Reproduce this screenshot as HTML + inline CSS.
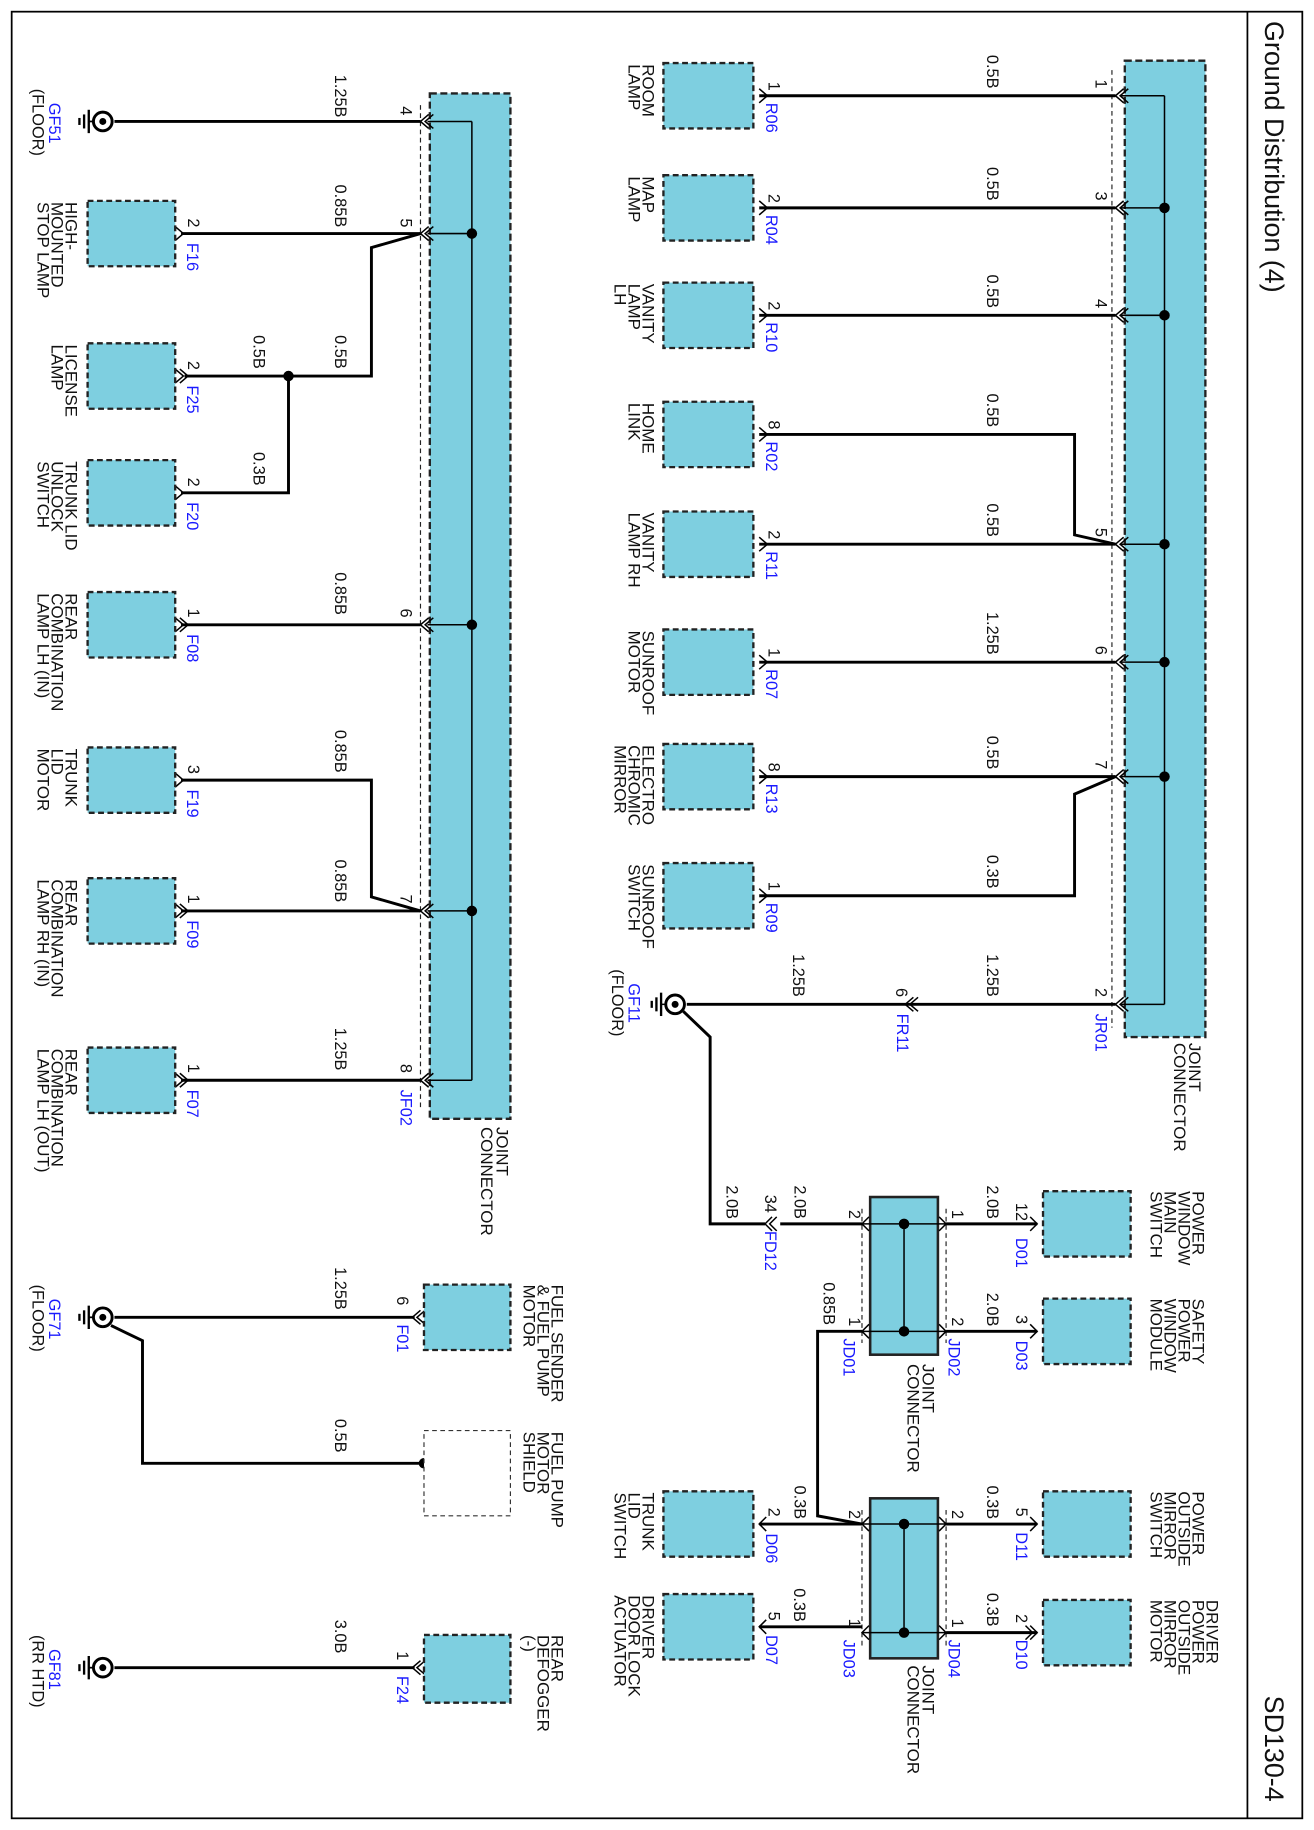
<!DOCTYPE html>
<html><head><meta charset="utf-8"><style>
html,body{margin:0;padding:0;background:#fff}
svg{display:block}
text{font-family:"Liberation Sans",Arial,sans-serif;font-size:14px;fill:#111}
.lb{font-size:14.5px}
.b{fill:#1a1aff}
.w{stroke:#000;stroke-width:2.5;fill:none}
.t{stroke:#000;stroke-width:1.3;fill:none}
.bx{fill:#7ecfe0;stroke:#222;stroke-width:2;stroke-dasharray:5 3}
.jc{fill:#7ecfe0;stroke:#222;stroke-width:2;stroke-dasharray:6 3}
.sj{fill:#7ecfe0;stroke:#222;stroke-width:2.2}
.d{stroke:#222;stroke-width:1;stroke-dasharray:4 3;fill:none}
</style></head><body>
<svg width="1314" height="1830" viewBox="0 0 1125 1567" preserveAspectRatio="none" xmlns="http://www.w3.org/2000/svg">
<rect x="10" y="10" width="1105" height="1547" fill="none" stroke="#000" stroke-width="1.5"/>
<line x1="1068" y1="10" x2="1068" y2="1557" stroke="#000" stroke-width="1.5"/>
<text transform="rotate(90 1083 18)" x="1083" y="18" style="font-size:23px">Ground Distribution (4)</text>
<text transform="rotate(90 1083 1452)" x="1083" y="1452" style="font-size:23px">SD130-4</text>

<rect class="jc" x="963" y="52" width="69" height="836"/>
<line class="d" x1="952" y1="60" x2="952" y2="880"/>
<line class="t" x1="997" y1="82" x2="997" y2="860"/>
<g class="t">
<line x1="960" y1="82" x2="997" y2="82"/><line x1="960" y1="178" x2="997" y2="178"/><line x1="960" y1="270" x2="997" y2="270"/><line x1="960" y1="466" x2="997" y2="466"/><line x1="960" y1="567" x2="997" y2="567"/><line x1="960" y1="665" x2="997" y2="665"/><line x1="960" y1="860" x2="997" y2="860"/>
</g>
<g fill="#000"><circle cx="997" cy="178" r="4.5"/><circle cx="997" cy="270" r="4.5"/><circle cx="997" cy="466" r="4.5"/><circle cx="997" cy="567" r="4.5"/><circle cx="997" cy="665" r="4.5"/></g>
<text class="lb" transform="rotate(90 1018 893)" x="1018" y="893">JOINT</text>
<text class="lb" transform="rotate(90 1005 893)" x="1005" y="893">CONNECTOR</text>

<g class="w">
<line x1="650" y1="82" x2="955" y2="82"/>
<line x1="650" y1="178" x2="955" y2="178"/>
<line x1="650" y1="270" x2="955" y2="270"/>
<polyline points="650,372 920,372 920,458 955,466"/>
<line x1="650" y1="466" x2="955" y2="466"/>
<line x1="650" y1="567" x2="955" y2="567"/>
<line x1="650" y1="665" x2="955" y2="665"/>
<polyline points="650,767 920,767 920,680 955,665"/>
<line x1="588" y1="860" x2="955" y2="860"/>
</g>
<g class="t">
<polyline points="962,76 955,82 962,88"/><polyline points="966,76 959,82 966,88"/>
<polyline points="962,172 955,178 962,184"/><polyline points="966,172 959,178 966,184"/>
<polyline points="962,264 955,270 962,276"/><polyline points="966,264 959,270 966,276"/>
<polyline points="962,460 955,466 962,472"/><polyline points="966,460 959,466 966,472"/>
<polyline points="962,561 955,567 962,573"/><polyline points="966,561 959,567 966,573"/>
<polyline points="962,659 955,665 962,671"/><polyline points="966,659 959,665 966,671"/>
<polyline points="962,854 955,860 962,866"/><polyline points="966,854 959,860 966,866"/>
<polyline points="650,76 657,82 650,88"/><polyline points="650,172 657,178 650,184"/><polyline points="650,264 657,270 650,276"/><polyline points="650,366 657,372 650,378"/><polyline points="650,460 657,466 650,472"/><polyline points="650,561 657,567 650,573"/><polyline points="650,659 657,665 650,671"/><polyline points="650,761 657,767 650,773"/>
<polyline points="782,854 775,860 782,866"/><polyline points="786,854 779,860 786,866"/>
</g>
<g class="bx">
<rect x="568" y="54" width="77" height="56"/><rect x="568" y="150" width="77" height="56"/><rect x="568" y="242" width="77" height="56"/><rect x="568" y="344" width="77" height="56"/><rect x="568" y="438" width="77" height="56"/><rect x="568" y="539" width="77" height="56"/><rect x="568" y="637" width="77" height="56"/><rect x="568" y="739" width="77" height="56"/>
</g>
<g class="lb">
<text class="lb" transform="rotate(90 550 55)" x="550" y="55">ROOM</text><text class="lb" transform="rotate(90 538 55)" x="538" y="55">LAMP</text>
<text class="lb" transform="rotate(90 550 151)" x="550" y="151">MAP</text><text class="lb" transform="rotate(90 538 151)" x="538" y="151">LAMP</text>
<text class="lb" transform="rotate(90 550 243)" x="550" y="243">VANITY</text><text class="lb" transform="rotate(90 538 243)" x="538" y="243">LAMP</text><text class="lb" transform="rotate(90 526 243)" x="526" y="243">LH</text>
<text class="lb" transform="rotate(90 550 345)" x="550" y="345">HOME</text><text class="lb" transform="rotate(90 538 345)" x="538" y="345">LINK</text>
<text class="lb" transform="rotate(90 550 439)" x="550" y="439">VANITY</text><text class="lb" transform="rotate(90 538 439)" x="538" y="439">LAMP RH</text>
<text class="lb" transform="rotate(90 550 540)" x="550" y="540">SUNROOF</text><text class="lb" transform="rotate(90 538 540)" x="538" y="540">MOTOR</text>
<text class="lb" transform="rotate(90 550 638)" x="550" y="638">ELECTRO</text><text class="lb" transform="rotate(90 538 638)" x="538" y="638">CHROMIC</text><text class="lb" transform="rotate(90 526 638)" x="526" y="638">MIRROR</text>
<text class="lb" transform="rotate(90 550 740)" x="550" y="740">SUNROOF</text><text class="lb" transform="rotate(90 538 740)" x="538" y="740">SWITCH</text>
</g>
<text transform="rotate(90 845 47)" x="845" y="47">0.5B</text>
<text transform="rotate(90 845 143)" x="845" y="143">0.5B</text>
<text transform="rotate(90 845 235)" x="845" y="235">0.5B</text>
<text transform="rotate(90 845 337)" x="845" y="337">0.5B</text>
<text transform="rotate(90 845 431)" x="845" y="431">0.5B</text>
<text transform="rotate(90 845 524)" x="845" y="524">1.25B</text>
<text transform="rotate(90 845 630)" x="845" y="630">0.5B</text>
<text transform="rotate(90 845 732)" x="845" y="732">0.3B</text>
<text transform="rotate(90 845 817)" x="845" y="817">1.25B</text>
<text transform="rotate(90 679 817)" x="679" y="817">1.25B</text>
<text transform="rotate(90 938 68)" x="938" y="68">1</text><text transform="rotate(90 938 164)" x="938" y="164">3</text><text transform="rotate(90 938 256)" x="938" y="256">4</text><text transform="rotate(90 938 452)" x="938" y="452">5</text><text transform="rotate(90 938 553)" x="938" y="553">6</text><text transform="rotate(90 938 651)" x="938" y="651">7</text><text transform="rotate(90 938 846)" x="938" y="846">2</text>
<text transform="rotate(90 658 70)" x="658" y="70">1</text><text transform="rotate(90 658 166)" x="658" y="166">2</text><text transform="rotate(90 658 258)" x="658" y="258">2</text><text transform="rotate(90 658 360)" x="658" y="360">8</text><text transform="rotate(90 658 454)" x="658" y="454">2</text><text transform="rotate(90 658 555)" x="658" y="555">1</text><text transform="rotate(90 658 653)" x="658" y="653">8</text><text transform="rotate(90 658 755)" x="658" y="755">1</text>
<text transform="rotate(90 767 846)" x="767" y="846">6</text>
<text class="b" transform="rotate(90 656 88)" x="656" y="88">R06</text><text class="b" transform="rotate(90 656 184)" x="656" y="184">R04</text><text class="b" transform="rotate(90 656 276)" x="656" y="276">R10</text><text class="b" transform="rotate(90 656 378)" x="656" y="378">R02</text><text class="b" transform="rotate(90 656 472)" x="656" y="472">R11</text><text class="b" transform="rotate(90 656 573)" x="656" y="573">R07</text><text class="b" transform="rotate(90 656 671)" x="656" y="671">R13</text><text class="b" transform="rotate(90 656 773)" x="656" y="773">R09</text>
<text class="b" transform="rotate(90 768 868)" x="768" y="868">FR11</text><text class="b" transform="rotate(90 938 868)" x="938" y="868">JR01</text>
<g>
<circle cx="578" cy="860" r="8" fill="#fff" stroke="#000" stroke-width="2.5"/><circle cx="578" cy="860" r="3" fill="#000"/>
<line class="t" x1="570" y1="860" x2="566" y2="860"/>
<line x1="566" y1="850" x2="566" y2="870" stroke="#000" stroke-width="2"/><line x1="562" y1="854" x2="562" y2="866" stroke="#000" stroke-width="2"/><line x1="558" y1="857" x2="558" y2="863" stroke="#000" stroke-width="2"/>
</g>
<text class="b" transform="rotate(90 538 842)" x="538" y="842">GF11</text>
<text transform="rotate(90 524 830)" x="524" y="830">(FLOOR)</text>

<rect class="sj" x="745" y="1025" width="58" height="135"/>
<rect class="sj" x="745" y="1283" width="58" height="137"/>
<g class="d"><line x1="738" y1="1035" x2="738" y2="1150"/><line x1="810" y1="1035" x2="810" y2="1150"/><line x1="738" y1="1293" x2="738" y2="1410"/><line x1="810" y1="1293" x2="810" y2="1410"/></g>
<g class="t">
<line x1="738" y1="1048" x2="810" y2="1048"/><line x1="738" y1="1140" x2="810" y2="1140"/><line x1="774" y1="1048" x2="774" y2="1140"/>
<line x1="738" y1="1305" x2="810" y2="1305"/><line x1="738" y1="1398" x2="810" y2="1398"/><line x1="774" y1="1305" x2="774" y2="1398"/>
</g>
<g fill="#000"><circle cx="774" cy="1048" r="4.5"/><circle cx="774" cy="1140" r="4.5"/><circle cx="774" cy="1305" r="4.5"/><circle cx="774" cy="1398" r="4.5"/></g>
<text class="lb" transform="rotate(90 790 1168)" x="790" y="1168">JOINT</text><text class="lb" transform="rotate(90 777 1168)" x="777" y="1168">CONNECTOR</text>
<text class="lb" transform="rotate(90 790 1426)" x="790" y="1426">JOINT</text><text class="lb" transform="rotate(90 777 1426)" x="777" y="1426">CONNECTOR</text>
<g class="w">
<polyline points="585,866 608,888 608,1048 655,1048"/>
<line x1="668" y1="1048" x2="738" y2="1048"/>
<polyline points="738,1140 700,1140 700,1298 738,1305"/>
<line x1="810" y1="1048" x2="888" y2="1048"/><line x1="810" y1="1140" x2="888" y2="1140"/><line x1="810" y1="1305" x2="888" y2="1305"/><line x1="810" y1="1398" x2="888" y2="1398"/>
<line x1="650" y1="1305" x2="738" y2="1305"/><line x1="650" y1="1393" x2="738" y2="1393"/>
</g>
<g class="t">
<polyline points="661,1042 655,1048 661,1054"/><polyline points="665,1042 659,1048 665,1054"/>
<polyline points="882,1042 888,1048 882,1054"/><polyline points="882,1134 888,1140 882,1146"/><polyline points="882,1299 888,1305 882,1311"/><polyline points="882,1392 888,1398 882,1404"/><polyline points="878,1392 884,1398 878,1404"/>
<polyline points="656,1299 650,1305 656,1311"/><polyline points="656,1387 650,1393 656,1399"/>
<polyline points="744,1042 738,1048 744,1054"/><polyline points="744,1134 738,1140 744,1146"/><polyline points="804,1042 810,1048 804,1054"/><polyline points="804,1134 810,1140 804,1146"/>
<polyline points="744,1299 738,1305 744,1311"/><polyline points="744,1392 738,1398 744,1404"/><polyline points="804,1299 810,1305 804,1311"/><polyline points="804,1392 810,1398 804,1404"/>
</g>
<g class="bx">
<rect x="893" y="1020" width="75" height="56"/><rect x="893" y="1112" width="75" height="56"/><rect x="893" y="1277" width="75" height="56"/><rect x="893" y="1370" width="75" height="56"/>
<rect x="568" y="1277" width="77" height="56"/><rect x="568" y="1365" width="77" height="56"/>
</g>
<text class="lb" transform="rotate(90 1021 1020)" x="1021" y="1020">POWER</text><text class="lb" transform="rotate(90 1009 1020)" x="1009" y="1020">WINDOW</text><text class="lb" transform="rotate(90 997 1020)" x="997" y="1020">MAIN</text><text class="lb" transform="rotate(90 985 1020)" x="985" y="1020">SWITCH</text>
<text class="lb" transform="rotate(90 1021 1112)" x="1021" y="1112">SAFETY</text><text class="lb" transform="rotate(90 1009 1112)" x="1009" y="1112">POWER</text><text class="lb" transform="rotate(90 997 1112)" x="997" y="1112">WINDOW</text><text class="lb" transform="rotate(90 985 1112)" x="985" y="1112">MODULE</text>
<text class="lb" transform="rotate(90 1021 1277)" x="1021" y="1277">POWER</text><text class="lb" transform="rotate(90 1009 1277)" x="1009" y="1277">OUTSIDE</text><text class="lb" transform="rotate(90 997 1277)" x="997" y="1277">MIRROR</text><text class="lb" transform="rotate(90 985 1277)" x="985" y="1277">SWITCH</text>
<text class="lb" transform="rotate(90 1033 1370)" x="1033" y="1370">DRIVER</text><text class="lb" transform="rotate(90 1021 1370)" x="1021" y="1370">POWER</text><text class="lb" transform="rotate(90 1009 1370)" x="1009" y="1370">OUTSIDE</text><text class="lb" transform="rotate(90 997 1370)" x="997" y="1370">MIRROR</text><text class="lb" transform="rotate(90 985 1370)" x="985" y="1370">MOTOR</text>
<text class="lb" transform="rotate(90 550 1278)" x="550" y="1278">TRUNK</text><text class="lb" transform="rotate(90 538 1278)" x="538" y="1278">LID</text><text class="lb" transform="rotate(90 526 1278)" x="526" y="1278">SWITCH</text>
<text class="lb" transform="rotate(90 550 1366)" x="550" y="1366">DRIVER</text><text class="lb" transform="rotate(90 538 1366)" x="538" y="1366">DOOR LOCK</text><text class="lb" transform="rotate(90 526 1366)" x="526" y="1366">ACTUATOR</text>
<text transform="rotate(90 845 1015)" x="845" y="1015">2.0B</text><text transform="rotate(90 845 1107)" x="845" y="1107">2.0B</text><text transform="rotate(90 845 1272)" x="845" y="1272">0.3B</text><text transform="rotate(90 845 1364)" x="845" y="1364">0.3B</text>
<text transform="rotate(90 680 1015)" x="680" y="1015">2.0B</text><text transform="rotate(90 622 1015)" x="622" y="1015">2.0B</text><text transform="rotate(90 705 1098)" x="705" y="1098">0.85B</text>
<text transform="rotate(90 680 1272)" x="680" y="1272">0.3B</text><text transform="rotate(90 680 1360)" x="680" y="1360">0.3B</text>
<text transform="rotate(90 870 1030)" x="870" y="1030">12</text><text transform="rotate(90 870 1126)" x="870" y="1126">3</text><text transform="rotate(90 870 1291)" x="870" y="1291">5</text><text transform="rotate(90 870 1382)" x="870" y="1382">2</text>
<text class="b" transform="rotate(90 870 1060)" x="870" y="1060">D01</text><text class="b" transform="rotate(90 870 1148)" x="870" y="1148">D03</text><text class="b" transform="rotate(90 870 1312)" x="870" y="1312">D11</text><text class="b" transform="rotate(90 870 1404)" x="870" y="1404">D10</text>
<text transform="rotate(90 655 1023)" x="655" y="1023">34</text><text class="b" transform="rotate(90 655 1054)" x="655" y="1054">FD12</text>
<text transform="rotate(90 658 1291)" x="658" y="1291">2</text><text class="b" transform="rotate(90 656 1313)" x="656" y="1313">D06</text>
<text transform="rotate(90 658 1380)" x="658" y="1380">5</text><text class="b" transform="rotate(90 656 1400)" x="656" y="1400">D07</text>
<text transform="rotate(90 727 1036)" x="727" y="1036">2</text><text transform="rotate(90 727 1128)" x="727" y="1128">1</text><text transform="rotate(90 815 1036)" x="815" y="1036">1</text><text transform="rotate(90 815 1128)" x="815" y="1128">2</text>
<text transform="rotate(90 727 1293)" x="727" y="1293">2</text><text transform="rotate(90 727 1386)" x="727" y="1386">1</text><text transform="rotate(90 815 1293)" x="815" y="1293">2</text><text transform="rotate(90 815 1386)" x="815" y="1386">1</text>
<text class="b" transform="rotate(90 722 1146)" x="722" y="1146">JD01</text><text class="b" transform="rotate(90 812 1146)" x="812" y="1146">JD02</text>
<text class="b" transform="rotate(90 722 1404)" x="722" y="1404">JD03</text><text class="b" transform="rotate(90 812 1404)" x="812" y="1404">JD04</text>

<rect class="jc" x="368" y="80" width="69" height="878"/>
<line class="d" x1="360" y1="90" x2="360" y2="950"/>
<line class="t" x1="404" y1="104" x2="404" y2="925"/>
<g class="t">
<line x1="366" y1="104" x2="404" y2="104"/><line x1="366" y1="200" x2="404" y2="200"/><line x1="366" y1="535" x2="404" y2="535"/><line x1="366" y1="780" x2="404" y2="780"/><line x1="366" y1="925" x2="404" y2="925"/>
<polyline points="367,98 360,104 367,110"/><polyline points="371,98 364,104 371,110"/>
<polyline points="367,194 360,200 367,206"/><polyline points="371,194 364,200 371,206"/>
<polyline points="367,529 360,535 367,541"/><polyline points="371,529 364,535 371,541"/>
<polyline points="367,774 360,780 367,786"/><polyline points="371,774 364,780 371,786"/>
<polyline points="367,919 360,925 367,931"/><polyline points="371,919 364,925 371,931"/>
<polyline points="150,194 157,200 150,206"/><polyline points="150,316 157,322 150,328"/><polyline points="154,316 161,322 154,328"/><polyline points="150,416 157,422 150,428"/><polyline points="150,529 157,535 150,541"/><polyline points="154,529 161,535 154,541"/><polyline points="150,662 157,668 150,674"/><polyline points="150,774 157,780 150,786"/><polyline points="154,774 161,780 154,786"/><polyline points="150,919 157,925 150,931"/><polyline points="154,919 161,925 154,931"/>
<polyline points="360,1122 353,1128 360,1134"/><polyline points="364,1122 357,1128 364,1134"/>
<polyline points="360,1422 353,1428 360,1434"/><polyline points="364,1422 357,1428 364,1434"/>
</g>
<g fill="#000"><circle cx="404" cy="200" r="4.5"/><circle cx="404" cy="535" r="4.5"/><circle cx="404" cy="780" r="4.5"/><circle cx="247" cy="322" r="4.5"/><circle cx="363" cy="1253" r="4.5"/></g>
<text class="lb" transform="rotate(90 425 965)" x="425" y="965">JOINT</text><text class="lb" transform="rotate(90 412 965)" x="412" y="965">CONNECTOR</text>
<g class="w">
<line x1="98" y1="104" x2="360" y2="104"/>
<line x1="155" y1="200" x2="360" y2="200"/>
<polyline points="158,322 318,322 318,212 360,200"/>
<polyline points="155,422 247,422 247,322"/>
<line x1="155" y1="535" x2="360" y2="535"/>
<polyline points="155,668 318,668 318,768 360,780"/>
<line x1="155" y1="780" x2="360" y2="780"/>
<line x1="155" y1="925" x2="360" y2="925"/>
<line x1="98" y1="1128" x2="355" y2="1128"/>
<polyline points="95,1135 122,1148 122,1253 363,1253"/>
<line x1="98" y1="1428" x2="355" y2="1428"/>
</g>
<g class="bx">
<rect x="75" y="172" width="75" height="56"/><rect x="75" y="294" width="75" height="56"/><rect x="75" y="394" width="75" height="56"/><rect x="75" y="507" width="75" height="56"/><rect x="75" y="640" width="75" height="56"/><rect x="75" y="752" width="75" height="56"/><rect x="75" y="897" width="75" height="56"/>
<rect x="363" y="1100" width="74" height="56"/><rect x="363" y="1400" width="74" height="58"/>
</g>
<rect x="363" y="1225" width="74" height="73" fill="#fff" stroke="#333" stroke-width="1" stroke-dasharray="4 3"/>
<g>
<circle cx="88" cy="104" r="8" fill="#fff" stroke="#000" stroke-width="2.5"/><circle cx="88" cy="104" r="3" fill="#000"/>
<line x1="76" y1="94" x2="76" y2="114" stroke="#000" stroke-width="2"/><line x1="72" y1="98" x2="72" y2="110" stroke="#000" stroke-width="2"/><line x1="68" y1="101" x2="68" y2="107" stroke="#000" stroke-width="2"/><line x1="76" y1="104" x2="80" y2="104" stroke="#000" stroke-width="1.5"/>
<circle cx="88" cy="1128" r="8" fill="#fff" stroke="#000" stroke-width="2.5"/><circle cx="88" cy="1128" r="3" fill="#000"/>
<line x1="76" y1="1118" x2="76" y2="1138" stroke="#000" stroke-width="2"/><line x1="72" y1="1122" x2="72" y2="1134" stroke="#000" stroke-width="2"/><line x1="68" y1="1125" x2="68" y2="1131" stroke="#000" stroke-width="2"/><line x1="76" y1="1128" x2="80" y2="1128" stroke="#000" stroke-width="1.5"/>
<circle cx="88" cy="1428" r="8" fill="#fff" stroke="#000" stroke-width="2.5"/><circle cx="88" cy="1428" r="3" fill="#000"/>
<line x1="76" y1="1418" x2="76" y2="1438" stroke="#000" stroke-width="2"/><line x1="72" y1="1422" x2="72" y2="1434" stroke="#000" stroke-width="2"/><line x1="68" y1="1425" x2="68" y2="1431" stroke="#000" stroke-width="2"/><line x1="76" y1="1428" x2="80" y2="1428" stroke="#000" stroke-width="1.5"/>
</g>
<text class="b" transform="rotate(90 42 88)" x="42" y="88">GF51</text><text transform="rotate(90 28 76)" x="28" y="76">(FLOOR)</text>
<text class="b" transform="rotate(90 42 1112)" x="42" y="1112">GF71</text><text transform="rotate(90 28 1100)" x="28" y="1100">(FLOOR)</text>
<text class="b" transform="rotate(90 42 1412)" x="42" y="1412">GF81</text><text transform="rotate(90 28 1400)" x="28" y="1400">(RR HTD)</text>
<text class="lb" transform="rotate(90 56 173)" x="56" y="173">HIGH-</text><text class="lb" transform="rotate(90 44 173)" x="44" y="173">MOUNTED</text><text class="lb" transform="rotate(90 32 173)" x="32" y="173">STOP LAMP</text>
<text class="lb" transform="rotate(90 56 295)" x="56" y="295">LICENSE</text><text class="lb" transform="rotate(90 44 295)" x="44" y="295">LAMP</text>
<text class="lb" transform="rotate(90 56 395)" x="56" y="395">TRUNK LID</text><text class="lb" transform="rotate(90 44 395)" x="44" y="395">UNLOCK</text><text class="lb" transform="rotate(90 32 395)" x="32" y="395">SWITCH</text>
<text class="lb" transform="rotate(90 56 508)" x="56" y="508">REAR</text><text class="lb" transform="rotate(90 44 508)" x="44" y="508">COMBINATION</text><text class="lb" transform="rotate(90 32 508)" x="32" y="508">LAMP LH (IN)</text>
<text class="lb" transform="rotate(90 56 641)" x="56" y="641">TRUNK</text><text class="lb" transform="rotate(90 44 641)" x="44" y="641">LID</text><text class="lb" transform="rotate(90 32 641)" x="32" y="641">MOTOR</text>
<text class="lb" transform="rotate(90 56 753)" x="56" y="753">REAR</text><text class="lb" transform="rotate(90 44 753)" x="44" y="753">COMBINATION</text><text class="lb" transform="rotate(90 32 753)" x="32" y="753">LAMP RH (IN)</text>
<text class="lb" transform="rotate(90 56 898)" x="56" y="898">REAR</text><text class="lb" transform="rotate(90 44 898)" x="44" y="898">COMBINATION</text><text class="lb" transform="rotate(90 32 898)" x="32" y="898">LAMP LH (OUT)</text>
<text class="lb" transform="rotate(90 472 1100)" x="472" y="1100">FUEL SENDER</text><text class="lb" transform="rotate(90 460 1100)" x="460" y="1100">&amp; FUEL PUMP</text><text class="lb" transform="rotate(90 448 1100)" x="448" y="1100">MOTOR</text>
<text class="lb" transform="rotate(90 472 1226)" x="472" y="1226">FUEL PUMP</text><text class="lb" transform="rotate(90 460 1226)" x="460" y="1226">MOTOR</text><text class="lb" transform="rotate(90 448 1226)" x="448" y="1226">SHIELD</text>
<text class="lb" transform="rotate(90 472 1400)" x="472" y="1400">REAR</text><text class="lb" transform="rotate(90 460 1400)" x="460" y="1400">DEFOGGER</text><text class="lb" transform="rotate(90 448 1400)" x="448" y="1400">(-)</text>
<text transform="rotate(90 287 64)" x="287" y="64">1.25B</text>
<text transform="rotate(90 287 158)" x="287" y="158">0.85B</text>
<text transform="rotate(90 287 287)" x="287" y="287">0.5B</text>
<text transform="rotate(90 217 287)" x="217" y="287">0.5B</text>
<text transform="rotate(90 217 387)" x="217" y="387">0.3B</text>
<text transform="rotate(90 287 490)" x="287" y="490">0.85B</text>
<text transform="rotate(90 287 625)" x="287" y="625">0.85B</text>
<text transform="rotate(90 287 736)" x="287" y="736">0.85B</text>
<text transform="rotate(90 287 880)" x="287" y="880">1.25B</text>
<text transform="rotate(90 287 1085)" x="287" y="1085">1.25B</text>
<text transform="rotate(90 287 1215)" x="287" y="1215">0.5B</text>
<text transform="rotate(90 287 1387)" x="287" y="1387">3.0B</text>
<text transform="rotate(90 343 91)" x="343" y="91">4</text><text transform="rotate(90 343 187)" x="343" y="187">5</text><text transform="rotate(90 343 521)" x="343" y="521">6</text><text transform="rotate(90 343 766)" x="343" y="766">7</text><text transform="rotate(90 343 911)" x="343" y="911">8</text>
<text class="b" transform="rotate(90 343 933)" x="343" y="933">JF02</text>
<text transform="rotate(90 161 187)" x="161" y="187">2</text><text transform="rotate(90 161 309)" x="161" y="309">2</text><text transform="rotate(90 161 409)" x="161" y="409">2</text><text transform="rotate(90 161 521)" x="161" y="521">1</text><text transform="rotate(90 161 655)" x="161" y="655">3</text><text transform="rotate(90 161 766)" x="161" y="766">1</text><text transform="rotate(90 161 911)" x="161" y="911">1</text>
<text class="b" transform="rotate(90 160 208)" x="160" y="208">F16</text><text class="b" transform="rotate(90 160 330)" x="160" y="330">F25</text><text class="b" transform="rotate(90 160 430)" x="160" y="430">F20</text><text class="b" transform="rotate(90 160 543)" x="160" y="543">F08</text><text class="b" transform="rotate(90 160 676)" x="160" y="676">F19</text><text class="b" transform="rotate(90 160 788)" x="160" y="788">F09</text><text class="b" transform="rotate(90 160 933)" x="160" y="933">F07</text>
<text transform="rotate(90 340 1110)" x="340" y="1110">6</text><text class="b" transform="rotate(90 340 1134)" x="340" y="1134">F01</text>
<text transform="rotate(90 340 1414)" x="340" y="1414">1</text><text class="b" transform="rotate(90 340 1435)" x="340" y="1435">F24</text>
</svg>
</body></html>
